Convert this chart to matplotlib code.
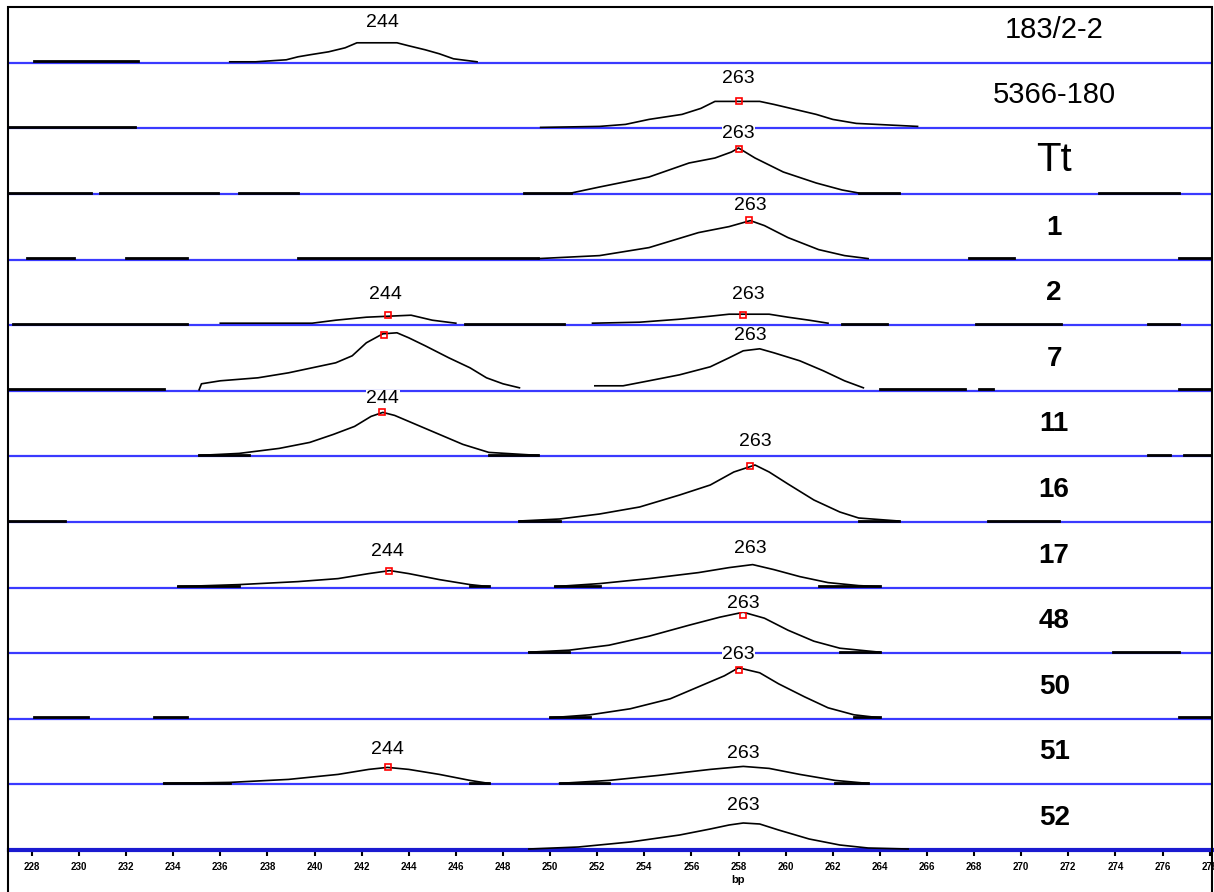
import matplotlib
matplotlib.use("Agg")
from matplotlib import pyplot as plt
from matplotlib.patches import Rectangle
import numpy as np

plt.rcParams['font.family'] = ['Liberation Sans', 'DejaVu Sans']

# sample names, top to bottom
samples = ["183/2-2", "5366-180", "Tt", "1", "2", "7", "11", "16", "17", "48", "50", "51", "52"]

# peak traces per row: x in bp, height in signal units (1 unit ~ 1 px)
peaks_x = [
    [[236.4, 237.5, 238.8, 239.3, 239.8, 240.6, 241.3, 241.8, 243.5, 244.0, 244.7, 245.3, 245.9, 246.9]],
    [[249.6, 252.1, 253.2, 254.2, 255.6, 256.4, 257.0, 258.9, 259.5, 260.4, 261.3, 262.0, 263.0, 265.6]],
    [[250.9, 252.1, 254.2, 255.9, 257.0, 257.7, 258.0, 258.7, 259.9, 261.3, 262.4, 263.1]],
    [[249.5, 252.1, 254.2, 256.3, 257.6, 258.2, 258.5, 259.1, 260.1, 261.4, 262.5, 263.5]],
    [[236.0, 239.9, 240.9, 242.2, 244.1, 245.0, 246.0],
     [251.8, 253.8, 255.5, 256.8, 257.6, 259.3, 260.1, 261.0, 261.8]],
    [[235.1, 235.2, 236.0, 237.6, 238.9, 239.9, 240.9, 241.6, 242.2, 242.9, 243.5, 244.0, 244.7, 245.7, 246.6, 247.3, 248.0, 248.7],
     [251.9, 253.1, 254.2, 255.5, 256.8, 257.6, 258.2, 258.9, 259.5, 260.6, 261.6, 262.5, 263.3]],
    [[235.1, 236.8, 238.5, 239.8, 240.8, 241.7, 242.4, 242.9, 243.4, 244.2, 245.3, 246.3, 247.4, 249.5]],
    [[248.7, 250.4, 252.1, 253.8, 255.5, 256.8, 257.8, 258.7, 259.3, 260.1, 261.2, 262.3, 263.1, 264.8]],
    [[234.2, 236.8, 239.3, 241.0, 242.3, 243.2, 244.0, 245.3, 246.6, 247.4],
     [250.2, 252.1, 254.2, 256.3, 257.6, 258.6, 259.5, 260.6, 261.8, 263.1, 264.0]],
    [[249.1, 250.8, 252.5, 254.2, 255.9, 257.2, 258.2, 259.1, 260.1, 261.2, 262.3, 264.0]],
    [[250.0, 251.7, 253.4, 255.1, 256.3, 257.4, 258.0, 258.9, 259.7, 260.8, 261.8, 262.9, 264.0]],
    [[233.6, 236.4, 238.9, 241.0, 242.3, 243.1, 244.0, 245.3, 246.6, 247.4],
     [250.4, 252.5, 254.6, 256.8, 258.2, 259.3, 260.6, 262.1, 263.5]],
    [[249.1, 251.2, 253.4, 255.5, 256.8, 257.6, 258.2, 258.9, 259.7, 261.0, 262.3, 263.5, 265.2]],
]
peaks_h = [
    [[1, 1, 3, 6, 8, 11, 15, 20, 20, 17, 13, 9, 4, 1]],
    [[1, 2, 4, 9, 14, 20, 27, 27, 24, 19, 14, 9, 5, 2]],
    [[1, 7, 17, 31, 36, 42, 46, 36, 22, 11, 4, 1]],
    [[1, 4, 12, 27, 33, 37, 39, 34, 22, 10, 4, 1]],
    [[2, 2, 5, 8, 10, 5, 2],
     [2, 3, 6, 9, 11, 11, 8, 5, 2]],
    [[1, 7, 10, 13, 18, 23, 28, 35, 48, 57, 58, 53, 45, 33, 23, 13, 7, 3],
     [5, 5, 10, 16, 24, 33, 40, 42, 38, 30, 20, 10, 3]],
    [[1, 3, 8, 14, 22, 30, 40, 44, 41, 33, 22, 12, 4, 1]],
    [[1, 3, 8, 15, 27, 37, 50, 57, 50, 38, 22, 10, 4, 1]],
    [[1, 3, 6, 9, 14, 17, 14, 8, 3, 1],
     [1, 4, 9, 15, 20, 23, 18, 11, 5, 2, 1]],
    [[1, 3, 8, 17, 28, 36, 41, 35, 23, 12, 5, 1]],
    [[1, 4, 10, 20, 32, 43, 51, 46, 35, 22, 11, 4, 1]],
    [[1, 2, 5, 10, 15, 17, 15, 10, 4, 1],
     [1, 4, 9, 15, 18, 16, 10, 4, 1]],
    [[1, 3, 8, 15, 21, 25, 27, 26, 20, 11, 5, 2, 1]],
]

# allele calls: (x in bp, label height, text)
calls = [
    [(242.9, 40, "244")],
    [(258.0, 50, "263")],
    [(258.0, 60, "263")],
    [(258.5, 54, "263")],
    [(243.0, 31, "244"), (258.4, 31, "263")],
    [(258.5, 55, "263")],
    [(242.9, 58, "244")],
    [(258.7, 80, "263")],
    [(243.1, 36, "244"), (258.5, 39, "263")],
    [(258.2, 50, "263")],
    [(258.0, 64, "263")],
    [(243.1, 35, "244"), (258.2, 31, "263")],
    [(258.2, 44, "263")],
]

# red peak markers (x in bp, height)
marks = [
    [],
    [(258.0, 27)],
    [(258.0, 45)],
    [(258.45, 40)],
    [(243.1, 10), (258.2, 10)],
    [(242.95, 56)],
    [(242.86, 44)],
    [(258.5, 56)],
    [(243.16, 17)],
    [(258.2, 38)],
    [(258.0, 49)],
    [(243.1, 17)],
    [],
]

# black baseline pieces per row (bp ranges)
base_segs = [
    [(228.1, 232.5)],
    [(227.0, 232.4)],
    [(227.0, 230.5), (230.9, 235.9), (236.8, 239.3), (248.9, 250.9), (263.1, 264.8), (273.3, 276.7)],
    [(227.8, 229.8), (232.0, 234.6), (239.3, 249.5), (267.8, 269.7), (276.7, 278.1)],
    [(227.2, 234.6), (246.4, 250.6), (262.4, 264.3), (268.1, 271.7), (275.4, 276.7)],
    [(227.0, 233.6), (264.0, 267.6), (268.2, 268.8), (276.7, 278.1)],
    [(235.1, 237.2), (247.4, 249.5), (275.4, 276.3), (276.9, 278.1)],
    [(227.0, 229.4), (248.7, 250.4), (263.1, 264.8), (268.6, 271.6)],
    [(234.2, 236.8), (246.6, 247.4), (250.2, 252.1), (261.4, 264.0)],
    [(249.1, 250.8), (262.3, 264.0), (273.9, 276.7)],
    [(228.1, 230.4), (233.2, 234.6), (250.0, 251.7), (262.9, 264.0), (276.7, 278.1)],
    [(233.6, 236.4), (246.6, 247.4), (250.4, 252.5), (262.1, 263.5)],
    [(249.1, 251.2), (263.1, 265.2), (268.4, 268.9)],
]

ticks = list(range(228, 280, 2))

row_h = 65.6
n = len(samples)
blue = "#3a3aff"

fig = plt.figure(figsize=(12.14, 8.92), dpi=100)
ax = fig.add_axes([9 / 1214, 42 / 892, 1203 / 1214, 843 / 892])
ax.set_xlim(227.03, 278.1)
ax.set_ylim(0, 843)

for i, name in enumerate(samples):
    off = (n - 1 - i) * row_h
    if i < n - 1:
        ax.axhline(off, color=blue, lw=1.6, zorder=1)
    for x0, x1 in base_segs[i]:
        ax.plot([x0, x1], [off + 1.5, off + 1.5], color="black", lw=2.0, zorder=2)
    for px, ph in zip(peaks_x[i], peaks_h[i]):
        ax.plot(px, off + np.array(ph), color="black", lw=1.2, zorder=3)
    for mx, mh in marks[i]:
        ax.plot(mx, off + mh, marker="s", ms=4.5, mfc="none", mec="red", mew=1.2, zorder=4)
    for cx, ch, txt in calls[i]:
        ax.text(cx, off + ch, txt, ha="center", va="center", fontsize=14, zorder=5,
                bbox=dict(facecolor="white", edgecolor="none", pad=0.3))
    if name == "Tt":
        ax.text(271.4, off + 34, name, ha="center", va="center", fontsize=29, zorder=5)
    elif i < 3:
        ax.text(271.4, off + 33, name, ha="center", va="center", fontsize=21, zorder=5)
    else:
        ax.text(271.4, off + 32, name, ha="center", va="center", fontsize=20,
                fontweight="bold", zorder=5)

for s in ["top", "left", "right"]:
    ax.spines[s].set_visible(False)
ax.spines["bottom"].set_color("#1a1ad0")
ax.spines["bottom"].set_linewidth(3)
ax.set_yticks([])
ax.set_xticks(ticks)
ax.set_xticklabels([str(t) for t in ticks], fontsize=7, fontweight="bold")
ax.tick_params(axis="x", length=4, width=1.5, color="black", pad=5)
ax.text(258.0, -30, "bp", ha="center", va="center", fontsize=8, fontweight="bold")

fig.add_artist(Rectangle((8 / 1214, -0.01), 1204 / 1214, 1.002, transform=fig.transFigure,
                         fill=False, edgecolor="black", lw=1.5))

fig.savefig("out.png", dpi=100)
